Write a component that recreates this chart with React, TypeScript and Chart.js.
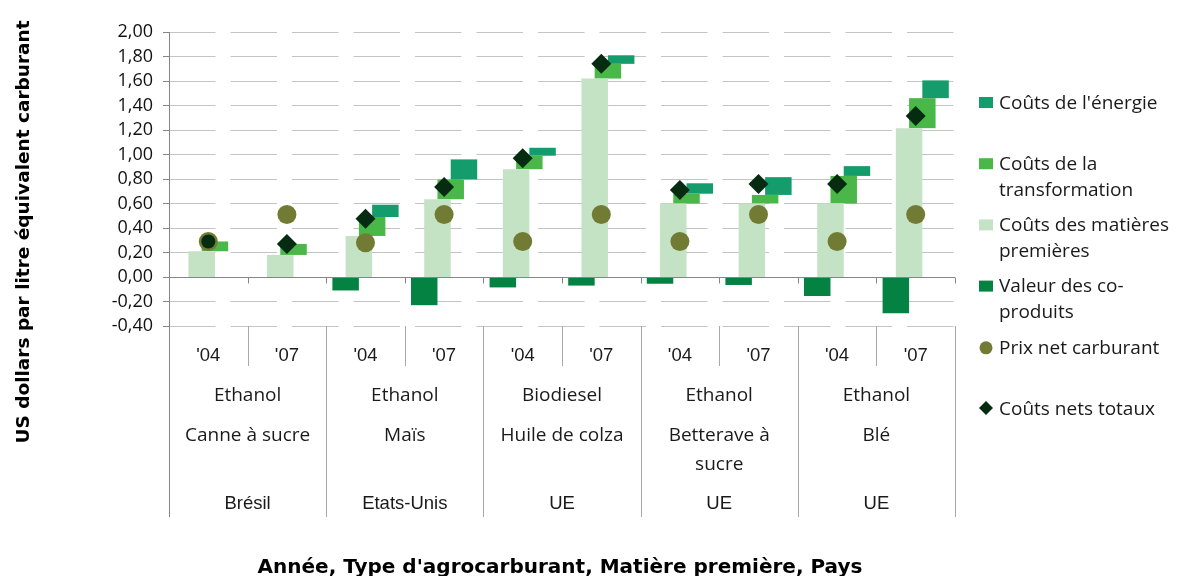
import React, { useEffect, useRef } from 'react';
import { Chart, registerables } from 'chart.js';

Chart.register(...registerables);

// ---------- data ----------
const years = ["'04", "'07", "'04", "'07", "'04", "'07", "'04", "'07", "'04", "'07"];
const fuelTypes = ['Ethanol', 'Ethanol', 'Biodiesel', 'Ethanol', 'Ethanol'];
const feedstocks = [['Canne à sucre'], ['Maïs'], ['Huile de colza'], ['Betterave à', 'sucre'], ['Blé']];
const countries = ['Brésil', 'Etats-Unis', 'UE', 'UE', 'UE'];

const rawMaterialCost = [0.21, 0.18, 0.335, 0.635, 0.88, 1.62, 0.6, 0.6, 0.6, 1.215];
const processingCost = [0.08, 0.09, 0.155, 0.16, 0.11, 0.12, 0.08, 0.07, 0.225, 0.245];
const energyCost = [0, 0, 0.1, 0.165, 0.065, 0.07, 0.085, 0.145, 0.08, 0.145];
const coProductValue = [0, 0, -0.11, -0.23, -0.085, -0.07, -0.055, -0.065, -0.155, -0.295];
const netFuelPrice = [0.29, 0.51, 0.28, 0.51, 0.29, 0.51, 0.29, 0.51, 0.29, 0.51];
const netTotalCost = [0.29, 0.27, 0.475, 0.735, 0.97, 1.74, 0.71, 0.76, 0.76, 1.315];

const yMin = -0.4;
const yMax = 2.0;
const yStep = 0.2;

const yTitle = 'US dollars par litre équivalent carburant';
const xTitle = "Année, Type d'agrocarburant, Matière première, Pays";

const seriesLabels = {
  energy: ["Coûts de l'énergie"],
  processing: ['Coûts de la', 'transformation'],
  raw: ['Coûts des matières', 'premières'],
  coProduct: ['Valeur des co-', 'produits'],
  price: ['Prix net carburant'],
  total: ['Coûts nets totaux'],
};

const colors = {
  energy: '#149c6c',
  processing: '#4ab849',
  raw: '#c4e2c4',
  coProduct: '#048242',
  price: '#727b33',
  total: '#052b10',
};

const fmt = (v: number) => (Math.abs(v) < 1e-9 ? 0 : v).toFixed(2).replace('.', ',');
const orNull = (a: number, b: number) => (Math.abs(b - a) < 1e-9 ? null : [a, b]);

export default function App() {
  const ref = useRef<HTMLCanvasElement | null>(null);

  useEffect(() => {
    document.body.style.margin = '0';
    const canvas = ref.current;
    if (!canvas) return;

    const labels = years.map((y, i) => `${y} ${countries[Math.floor(i / 2)]}`);
    const rawRange = rawMaterialCost.map((r) => orNull(0, r));
    const procRange = rawMaterialCost.map((r, i) => orNull(r, r + processingCost[i]));
    const energyRange = rawMaterialCost.map((r, i) =>
      orNull(r + processingCost[i], r + processingCost[i] + energyCost[i])
    );
    const coRange = coProductValue.map((c) => orNull(c, 0));

    const GRAY = '#868686';
    const SEP = '#a8a8a8';

    const decor = {
      id: 'decor',
      afterDatasetsDraw(chart: any) {
        const { ctx, chartArea } = chart;
        const x = chart.scales.x;
        const y = chart.scales.y;
        const y0 = Math.round(y.getPixelForValue(0)) + 0.5;
        ctx.save();
        ctx.strokeStyle = GRAY;
        ctx.lineWidth = 1;
        ctx.beginPath();
        ctx.moveTo(chartArea.left, y0);
        ctx.lineTo(chartArea.right, y0);
        for (let i = 1; i <= years.length; i++) {
          const bx = Math.round(x.getPixelForValue(i - 0.5)) + 0.5;
          ctx.moveTo(bx, y0);
          ctx.lineTo(bx, y0 + 6);
        }
        ctx.stroke();
        ctx.restore();
      },
      afterDraw(chart: any) {
        const { ctx, chartArea } = chart;
        const x = chart.scales.x;
        const bottom = chartArea.bottom;
        const labelBottom = 517;
        ctx.save();
        // y axis line
        ctx.strokeStyle = GRAY;
        ctx.lineWidth = 1;
        ctx.beginPath();
        const ax = Math.round(chartArea.left) + 0.5;
        ctx.moveTo(ax, chartArea.top);
        ctx.lineTo(ax, labelBottom);
        ctx.stroke();

        // separators in the label area
        ctx.strokeStyle = SEP;
        ctx.beginPath();
        for (let i = 1; i <= years.length; i++) {
          const bx = Math.round(x.getPixelForValue(i - 0.5)) + 0.5;
          ctx.moveTo(bx, bottom);
          ctx.lineTo(bx, i % 2 === 0 ? labelBottom : 366);
        }
        ctx.stroke();

        // year labels
        ctx.fillStyle = '#1a1a1a';
        ctx.textAlign = 'center';
        ctx.textBaseline = 'alphabetic';
        ctx.font = '18.5px "Liberation Sans", Arial, sans-serif';
        years.forEach((yl, i) => {
          ctx.fillText(yl, x.getPixelForValue(i), 361);
        });
        // group labels
        for (let g = 0; g < fuelTypes.length; g++) {
          const cx = (x.getPixelForValue(g * 2 - 0.5) + x.getPixelForValue(g * 2 + 1.5)) / 2;
          ctx.font = '19px "Open Sans", sans-serif';
          ctx.fillText(fuelTypes[g], cx, 401);
          feedstocks[g].forEach((line, k) => ctx.fillText(line, cx, 441 + k * 29));
          ctx.font = '18.5px "Liberation Sans", Arial, sans-serif';
          ctx.fillText(countries[g], cx, 509);
        }

        // axis titles
        ctx.fillStyle = '#000';
        ctx.font = 'bold 20px "DejaVu Sans", sans-serif';
        ctx.fillText(xTitle, 560, 573);
        ctx.save();
        ctx.translate(24, 232);
        ctx.rotate(-Math.PI / 2);
        ctx.font = 'bold 18.5px "DejaVu Sans", sans-serif';
        ctx.textBaseline = 'middle';
        ctx.fillText(yTitle, 0, 0);
        ctx.restore();

        // legend
        const order: Array<keyof typeof seriesLabels> = ['energy', 'processing', 'raw', 'coProduct', 'price', 'total'];
        ctx.textAlign = 'left';
        ctx.font = '19px "Open Sans", sans-serif';
        order.forEach((key, i) => {
          const cy = 102 + 61.2 * i;
          const mx = 986;
          ctx.fillStyle = colors[key];
          if (key === 'price') {
            ctx.beginPath();
            ctx.arc(mx, cy + 1, 6.5, 0, Math.PI * 2);
            ctx.fill();
          } else if (key === 'total') {
            ctx.beginPath();
            ctx.moveTo(mx, cy - 7);
            ctx.lineTo(mx + 7, cy);
            ctx.lineTo(mx, cy + 7);
            ctx.lineTo(mx - 7, cy);
            ctx.closePath();
            ctx.fill();
          } else {
            ctx.fillRect(979, cy - 5, 14, 11);
          }
          ctx.fillStyle = '#1a1a1a';
          seriesLabels[key].forEach((line, k) => ctx.fillText(line, 999, cy + 6.8 + k * 26));
        });
        ctx.restore();
      },
    };

    const barCommon = {
      type: 'bar' as const,
      borderWidth: 0,
      barPercentage: 2,
      categoryPercentage: 0.674,
      order: 2,
    };

    const chart = new Chart(canvas, {
      type: 'bar',
      data: {
        labels,
        datasets: [
          { ...barCommon, label: seriesLabels.coProduct.join(' '), data: coRange as any, backgroundColor: colors.coProduct },
          { ...barCommon, label: seriesLabels.raw.join(' '), data: rawRange as any, backgroundColor: colors.raw },
          { ...barCommon, label: seriesLabels.processing.join(' '), data: procRange as any, backgroundColor: colors.processing },
          { ...barCommon, label: seriesLabels.energy.join(' '), data: energyRange as any, backgroundColor: colors.energy },
          {
            type: 'line' as const,
            label: seriesLabels.price.join(' '),
            data: netFuelPrice,
            showLine: false,
            pointStyle: 'circle',
            pointRadius: 9.5,
            pointBorderWidth: 0,
            pointBackgroundColor: colors.price,
            pointBorderColor: colors.price,
            order: 1,
          },
          {
            type: 'line' as const,
            label: seriesLabels.total.join(' '),
            data: netTotalCost,
            showLine: false,
            pointStyle: ((c: any) => (c.dataIndex === 0 ? 'circle' : 'rectRot')) as any,
            pointRadius: ((c: any) => (c.dataIndex === 0 ? 7 : 10)) as any,
            pointBorderWidth: 0,
            pointBackgroundColor: colors.total,
            pointBorderColor: colors.total,
            order: 0,
          },
        ],
      },
      options: {
        responsive: false,
        animation: false,
        devicePixelRatio: 1,
        layout: { padding: { left: 0, right: 224, top: 32, bottom: 250 } },
        plugins: { legend: { display: false }, tooltip: { enabled: false }, title: { display: false } },
        scales: {
          x: { display: false, stacked: false, offset: true },
          y: {
            min: yMin,
            max: yMax,
            afterFit: (s: any) => {
              s.width = 169;
            },
            ticks: {
              stepSize: yStep,
              autoSkip: false,
              padding: 10,
              color: '#111',
              font: { family: '"Open Sans", sans-serif', size: 18 },
              callback: (v: any) => fmt(Number(v)),
            },
            grid: {
              color: (c: any) => (c.tick && Math.abs(c.tick.value) < 1e-9 ? 'rgba(0,0,0,0)' : '#c4c4c4'),
              lineWidth: 1,
              tickColor: GRAY,
              tickLength: 6,
              drawTicks: true,
            },
            border: { display: false, dash: [46.5, 15] },
          },
        },
      },
      plugins: [decor],
    } as any);

    return () => chart.destroy();
  }, []);

  return (
    <div style={{ position: 'relative', width: 1179, height: 576 }}>
      <canvas ref={ref} width={1179} height={576} />
    </div>
  );
}
